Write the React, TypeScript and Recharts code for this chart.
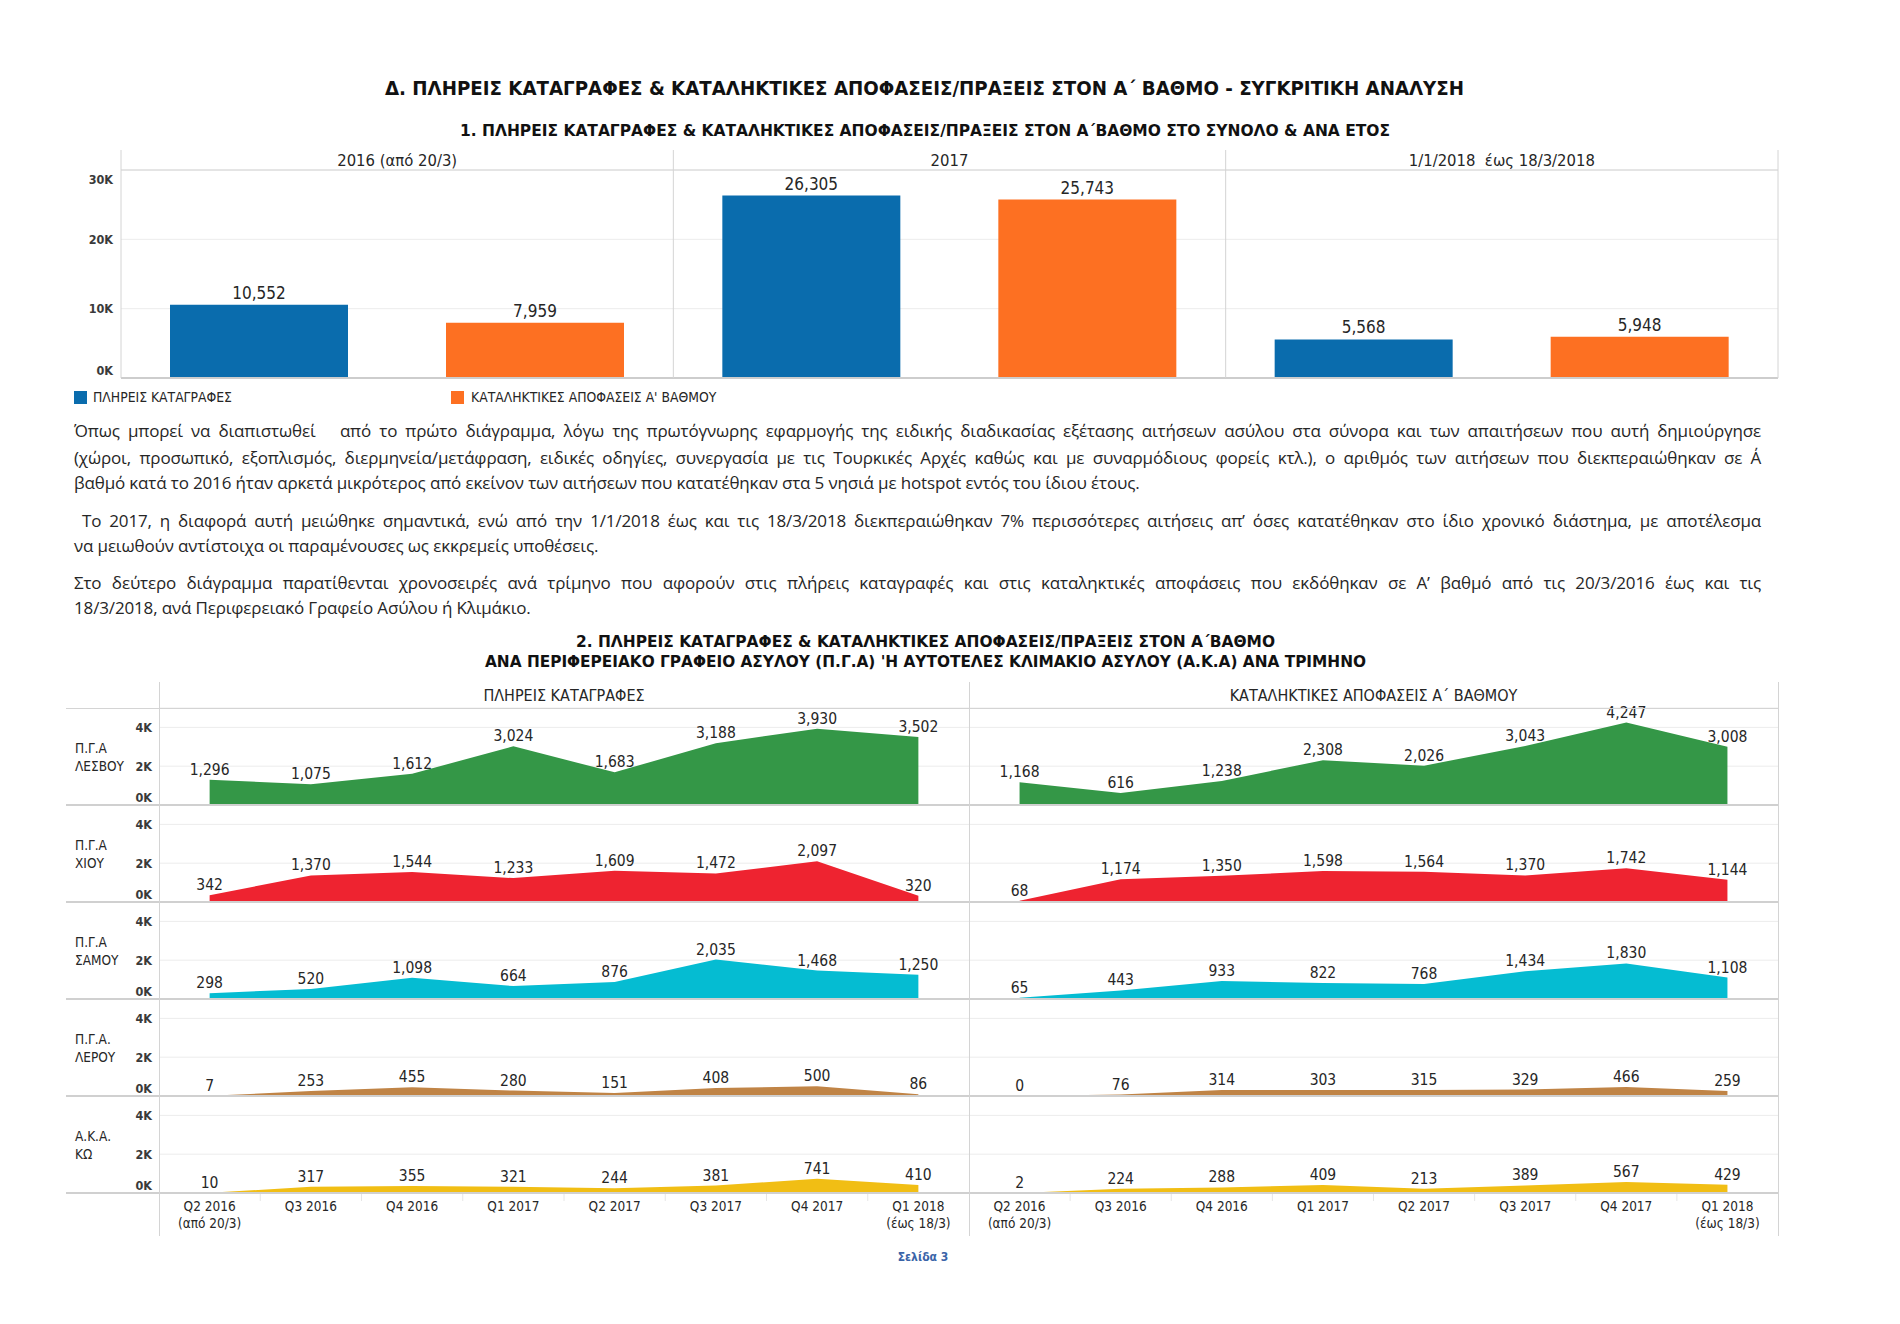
import React from "react";
import {
  BarChart,
  Bar,
  AreaChart,
  Area,
  XAxis,
  YAxis,
  CartesianGrid,
  LabelList,
  ReferenceLine,
} from "recharts";

const COND = "'DejaVu Sans Condensed', 'Liberation Sans Narrow', 'DejaVu Sans', sans-serif";
const BODY = "'Open Sans', 'Noto Sans', sans-serif";
const INK = "#262626";
const RULE = "#d4d4d4";
const GRID = "#ececec";

// ---- chart 1: totals per year
const periods = ["2016 (από 20/3)", "2017", "1/1/2018\u00a0\u00a0έως 18/3/2018"];
const registrationsByPeriod = [10552, 26305, 5568];
const decisionsByPeriod = [7959, 25743, 5948];
const periodTicks = [0, 10000, 20000, 30000];

// ---- chart 2: per quarter and office
const quarters = ["Q2 2016", "Q3 2016", "Q4 2016", "Q1 2017", "Q2 2017", "Q3 2017", "Q4 2017", "Q1 2018"];
const quarterNotes = ["(από 20/3)", "", "", "", "", "", "", "(έως 18/3)"];
const quarterTicks = [0, 2000, 4000];
const officeNames = [
  ["Π.Γ.Α", "ΛΕΣΒΟΥ"],
  ["Π.Γ.Α", "ΧΙΟΥ"],
  ["Π.Γ.Α", "ΣΑΜΟΥ"],
  ["Π.Γ.Α.", "ΛΕΡΟΥ"],
  ["Α.Κ.Α.", "ΚΩ"],
];

const lesvosRegistrations = [1296, 1075, 1612, 3024, 1683, 3188, 3930, 3502];
const chiosRegistrations = [342, 1370, 1544, 1233, 1609, 1472, 2097, 320];
const samosRegistrations = [298, 520, 1098, 664, 876, 2035, 1468, 1250];
const lerosRegistrations = [7, 253, 455, 280, 151, 408, 500, 86];
const kosRegistrations = [10, 317, 355, 321, 244, 381, 741, 410];

const lesvosDecisions = [1168, 616, 1238, 2308, 2026, 3043, 4247, 3008];
const chiosDecisions = [68, 1174, 1350, 1598, 1564, 1370, 1742, 1144];
const samosDecisions = [65, 443, 933, 822, 768, 1434, 1830, 1108];
const lerosDecisions = [0, 76, 314, 303, 315, 329, 466, 259];
const kosDecisions = [2, 224, 288, 409, 213, 389, 567, 429];

const registrationsByOffice = [lesvosRegistrations, chiosRegistrations, samosRegistrations, lerosRegistrations, kosRegistrations];
const decisionsByOffice = [lesvosDecisions, chiosDecisions, samosDecisions, lerosDecisions, kosDecisions];

const BLUE = "#0a6cad";
const ORANGE = "#fd7022";
const officeColors = ["#349747", "#ee2330", "#05bcd2", "#c08446", "#f1be14"];

const fmt = (v: any) => Number(v).toLocaleString("en-US");
const kFmt = (v: number) => `${v / 1000}K`;

const barData = periods.map((p, i) => ({ period: p, reg: registrationsByPeriod[i], dec: decisionsByPeriod[i] }));
const officeRows = registrationsByOffice.map((regs, r) =>
  quarters.map((q, i) => ({ q, reg: regs[i], dec: decisionsByOffice[r][i] }))
);

// ---- layout of chart 1
const BAR_W = 1740;
const BAR_H = 250;
const BAR_MARGIN = { top: 10, right: 22, bottom: 12, left: 21 };
const BAR_Y_W = 40;
const BAR_X_H = 20;
const barPlotW = BAR_W - BAR_MARGIN.left - BAR_MARGIN.right - BAR_Y_W;
const barPlotH = BAR_H - BAR_MARGIN.top - BAR_MARGIN.bottom - BAR_X_H;
const barBand = barPlotW / periods.length;

// ---- layout of chart 2
const ROW_TOP = 708;
const ROW_H = 97;
const ROW_PAD = 20; // room above each row for the value labels
const AXIS_H = 45;
const ROW_Y_W = 93;

const FitText = ({ text, x, y, width, size, color = "#111", weight = "bold" }: any) => (
  <svg style={{ position: "absolute", left: x, top: y - size, overflow: "visible" }} width={width} height={size * 2}>
    <text
      x={0}
      y={size * 1.36}
      textLength={width}
      lengthAdjust="spacingAndGlyphs"
      fontFamily={COND}
      fontSize={size}
      fontWeight={weight}
      fill={color}
    >
      {text}
    </text>
  </svg>
);

const PeriodTick = ({ x, y, payload, index }: any) => (
  <g>
    <line x1={x - barBand / 2} x2={x - barBand / 2} y1={y - 20} y2={y + barPlotH} stroke={RULE} />
    {index === periods.length - 1 ? (
      <line x1={x + barBand / 2} x2={x + barBand / 2} y1={y - 20} y2={y + barPlotH} stroke={RULE} />
    ) : null}
    <text x={x} y={y - 4} textAnchor="middle" fontFamily={COND} fontSize={16.5} fill={INK}>
      {payload.value}
    </text>
  </g>
);

const BarYTick = ({ x, y, payload }: any) => {
  const v = payload.value;
  const dy = v === 0 ? -7 : v === 30000 ? 10 : 0;
  return (
    <text x={x} y={y + dy} dy="0.35em" textAnchor="end" fontFamily={COND} fontSize={12.5} fontWeight="bold" fill="#3a3a3a">
      {kFmt(v)}
    </text>
  );
};

const RowYTick = ({ x, y, payload }: any) => {
  const v = payload.value;
  const dy = v === 0 ? -7 : 0;
  return (
    <text x={x} y={y + dy} dy="0.35em" textAnchor="end" fontFamily={COND} fontSize={12.5} fontWeight="bold" fill="#3a3a3a">
      {kFmt(v)}
    </text>
  );
};

const QuarterTick = ({ x, y, payload, index, step }: any) => (
  <g>
    <text x={x} y={y + 18} textAnchor="middle" fontFamily={COND} fontSize={13.5} fill={INK}>
      {payload.value}
    </text>
    {quarterNotes[index] ? (
      <text x={x} y={y + 35} textAnchor="middle" fontFamily={COND} fontSize={13.5} fill={INK}>
        {quarterNotes[index]}
      </text>
    ) : null}
    {index < quarters.length - 1 ? (
      <line x1={x + step / 2} x2={x + step / 2} y1={y} y2={y + 8} stroke="#e6e6e6" />
    ) : null}
  </g>
);

const QuarterPanel = ({ data, dataKey, color, top, left, showY, withAxis }: any) => {
  const width = showY ? 903 : 809;
  const plotW = showY ? width - ROW_Y_W : width;
  const step = plotW / quarters.length;
  return (
    <div style={{ position: "absolute", left, top: top - ROW_PAD }}>
      <AreaChart
        width={width}
        height={ROW_PAD + ROW_H + (withAxis ? AXIS_H : 0)}
        data={data}
        margin={{ top: ROW_PAD, right: 0, bottom: 0, left: 0 }}
      >
        <CartesianGrid vertical={false} stroke={GRID} />
        <XAxis
          dataKey="q"
          hide={!withAxis}
          height={AXIS_H}
          padding={{ left: step / 2, right: step / 2 }}
          axisLine={false}
          tickLine={false}
          tickSize={0}
          tickMargin={0}
          interval={0}
          tick={(p: any) => <QuarterTick {...p} step={step} />}
        />
        <YAxis
          hide={!showY}
          width={ROW_Y_W}
          domain={[0, 5000]}
          ticks={quarterTicks}
          interval={0}
          axisLine={false}
          tickLine={false}
          tickSize={0}
          tickMargin={7}
          tick={(p: any) => <RowYTick {...p} />}
        />
        <Area type="linear" dataKey={dataKey} stroke="none" fill={color} fillOpacity={1} isAnimationActive={false}>
          <LabelList dataKey={dataKey} position="top" offset={5} formatter={fmt} fill={INK} fontSize={15.5} fontFamily={COND} />
        </Area>
      </AreaChart>
    </div>
  );
};

const paragraphLines = [
  { text: "Όπως μπορεί να διαπιστωθεί\u00a0\u00a0 από το πρώτο διάγραμμα, λόγω της πρωτόγνωρης εφαρμογής της ειδικής διαδικασίας εξέτασης αιτήσεων ασύλου στα σύνορα και των απαιτήσεων που αυτή δημιούργησε", y: 431, full: true },
  { text: "(χώροι, προσωπικό, εξοπλισμός, διερμηνεία/μετάφραση, ειδικές οδηγίες, συνεργασία με τις Τουρκικές Αρχές καθώς και με συναρμόδιους φορείς κτλ.), ο αριθμός των αιτήσεων που διεκπεραιώθηκαν σε Α΄", y: 458, full: true },
  { text: "βαθμό κατά το 2016 ήταν αρκετά μικρότερος από εκείνον των αιτήσεων που κατατέθηκαν στα 5 νησιά με hotspot εντός του ίδιου έτους.", y: 483, full: false },
  { text: "\u00a0Το 2017, η διαφορά αυτή μειώθηκε σημαντικά, ενώ από την 1/1/2018 έως και τις 18/3/2018 διεκπεραιώθηκαν 7% περισσότερες αιτήσεις απ’ όσες κατατέθηκαν στο ίδιο χρονικό διάστημα, με αποτέλεσμα", y: 521, full: true },
  { text: "να μειωθούν αντίστοιχα οι παραμένουσες ως εκκρεμείς υποθέσεις.", y: 546, full: false },
  { text: "Στο δεύτερο διάγραμμα παρατίθενται χρονοσειρές ανά τρίμηνο που αφορούν στις πλήρεις καταγραφές και στις καταληκτικές αποφάσεις που εκδόθηκαν σε Α’ βαθμό από τις 20/3/2016 έως και τις", y: 583, full: true },
  { text: "18/3/2018, ανά Περιφερειακό Γραφείο Ασύλου ή Κλιμάκιο.", y: 608, full: false },
];

const HLine = ({ x1, x2, y, w = 1, color = RULE }: any) => (
  <div style={{ position: "absolute", left: x1, top: y - Math.floor(w / 2), width: x2 - x1, height: w, background: color }} />
);
const VLine = ({ x, y1, y2, color = RULE }: any) => (
  <div style={{ position: "absolute", left: x, top: y1, width: 1, height: y2 - y1, background: color }} />
);

export default function App() {
  return (
    <div
      style={{
        position: "absolute",
        left: 0,
        top: 0,
        width: 1900,
        height: 1324,
        background: "#fff",
        fontFamily: BODY,
        overflow: "hidden",
      }}
    >
      <FitText text="Δ. ΠΛΗΡΕΙΣ ΚΑΤΑΓΡΑΦΕΣ & ΚΑΤΑΛΗΚΤΙΚΕΣ ΑΠΟΦΑΣΕΙΣ/ΠΡΑΞΕΙΣ ΣΤΟΝ Α΄ ΒΑΘΜΟ - ΣΥΓΚΡΙΤΙΚΗ ΑΝΑΛΥΣΗ" x={385} y={88} width={1079} size={19} />
      <FitText text="1.  ΠΛΗΡΕΙΣ ΚΑΤΑΓΡΑΦΕΣ & ΚΑΤΑΛΗΚΤΙΚΕΣ ΑΠΟΦΑΣΕΙΣ/ΠΡΑΞΕΙΣ ΣΤΟΝ Α΄ΒΑΘΜΟ ΣΤΟ ΣΥΝΟΛΟ & ΑΝΑ ΕΤΟΣ" x={460} y={130} width={930} size={16} />

      <div style={{ position: "absolute", left: 60, top: 140 }}>
        <BarChart width={BAR_W} height={BAR_H} data={barData} margin={BAR_MARGIN} barSize={178} barGap={98}>
          <CartesianGrid vertical={false} stroke={GRID} />
          <XAxis
            dataKey="period"
            orientation="top"
            height={BAR_X_H}
            axisLine={false}
            tickLine={false}
            tickSize={0}
            tickMargin={0}
            interval={0}
            tick={(p: any) => <PeriodTick {...p} />}
          />
          <YAxis
            width={BAR_Y_W}
            domain={[0, 30000]}
            ticks={periodTicks}
            interval={0}
            axisLine={false}
            tickLine={false}
            tickSize={0}
            tickMargin={8}
            tick={(p: any) => <BarYTick {...p} />}
          />
          <ReferenceLine y={30000} stroke={RULE} />
          <ReferenceLine y={0} stroke="#cdcdcd" strokeWidth={2} />
          <Bar dataKey="reg" fill={BLUE} isAnimationActive={false}>
            <LabelList dataKey="reg" position="top" offset={6} formatter={fmt} fill={INK} fontSize={17} fontFamily={COND} />
          </Bar>
          <Bar dataKey="dec" fill={ORANGE} isAnimationActive={false}>
            <LabelList dataKey="dec" position="top" offset={6} formatter={fmt} fill={INK} fontSize={17} fontFamily={COND} />
          </Bar>
        </BarChart>
      </div>

      {/* legend of chart 1 */}
      <div style={{ position: "absolute", left: 74, top: 391, width: 13, height: 13, background: BLUE }} />
      <div style={{ position: "absolute", left: 93, top: 389, fontFamily: COND, fontSize: 13.8, lineHeight: "17px", color: INK }}>
        ΠΛΗΡΕΙΣ ΚΑΤΑΓΡΑΦΕΣ
      </div>
      <div style={{ position: "absolute", left: 451, top: 391, width: 13, height: 13, background: ORANGE }} />
      <div style={{ position: "absolute", left: 471, top: 389, fontFamily: COND, fontSize: 13.8, lineHeight: "17px", color: INK }}>
        ΚΑΤΑΛΗΚΤΙΚΕΣ ΑΠΟΦΑΣΕΙΣ Α' ΒΑΘΜΟΥ
      </div>

      {paragraphLines.map((l, i) => (
        <div
          key={i}
          style={{
            position: "absolute",
            left: 74,
            top: l.y - 13,
            width: 1687,
            height: 26,
            lineHeight: "26px",
            fontSize: 17,
            letterSpacing: "-0.15px",
            color: INK,
            textAlign: l.full ? "justify" : "left",
            textAlignLast: l.full ? "justify" : "auto",
          } as any}
        >
          {l.text}
        </div>
      ))}

      <FitText text="2. ΠΛΗΡΕΙΣ ΚΑΤΑΓΡΑΦΕΣ & ΚΑΤΑΛΗΚΤΙΚΕΣ ΑΠΟΦΑΣΕΙΣ/ΠΡΑΞΕΙΣ ΣΤΟΝ Α΄ΒΑΘΜΟ" x={576} y={642} width={699} size={15} />
      <FitText text="ΑΝΑ ΠΕΡΙΦΕΡΕΙΑΚΟ ΓΡΑΦΕΙΟ ΑΣΥΛΟΥ (Π.Γ.Α) 'Η ΑΥΤΟΤΕΛΕΣ ΚΛΙΜΑΚΙΟ ΑΣΥΛΟΥ (Α.Κ.Α) ΑΝΑ ΤΡΙΜΗΝΟ" x={485} y={662} width={881} size={15} />

      <div style={{ position: "absolute", left: 159, width: 810, top: 686, textAlign: "center", fontFamily: COND, fontSize: 16, lineHeight: "20px", color: INK }}>
        ΠΛΗΡΕΙΣ ΚΑΤΑΓΡΑΦΕΣ
      </div>
      <div style={{ position: "absolute", left: 969, width: 809, top: 686, textAlign: "center", fontFamily: COND, fontSize: 16, lineHeight: "20px", color: INK }}>
        ΚΑΤΑΛΗΚΤΙΚΕΣ ΑΠΟΦΑΣΕΙΣ Α΄ ΒΑΘΜΟΥ
      </div>

      {officeRows.map((rows, r) => {
        const top = ROW_TOP + r * ROW_H;
        const last = r === officeRows.length - 1;
        return (
          <React.Fragment key={r}>
            <QuarterPanel data={rows} dataKey="reg" color={officeColors[r]} top={top} left={66} showY withAxis={last} />
            <QuarterPanel data={rows} dataKey="dec" color={officeColors[r]} top={top} left={969} showY={false} withAxis={last} />
            <div style={{ position: "absolute", left: 75, top: top + 31, fontFamily: COND, fontSize: 13.5, lineHeight: "18px", color: INK }}>
              {officeNames[r][0]}
              <br />
              {officeNames[r][1]}
            </div>
          </React.Fragment>
        );
      })}

      <HLine x1={66} x2={1778} y={ROW_TOP} />
      {officeRows.map((_, r) => (
        <HLine key={r} x1={66} x2={1778} y={ROW_TOP + (r + 1) * ROW_H} w={2} color="#d0d0d0" />
      ))}
      <VLine x={159} y1={682} y2={1236} />
      <VLine x={969} y1={682} y2={1236} />
      <VLine x={1778} y1={682} y2={1236} />

      <div style={{ position: "absolute", left: 873, width: 100, top: 1250, textAlign: "center", fontFamily: COND, fontSize: 12, fontWeight: "bold", color: "#3a64a8" }}>
        Σελίδα 3
      </div>
    </div>
  );
}
